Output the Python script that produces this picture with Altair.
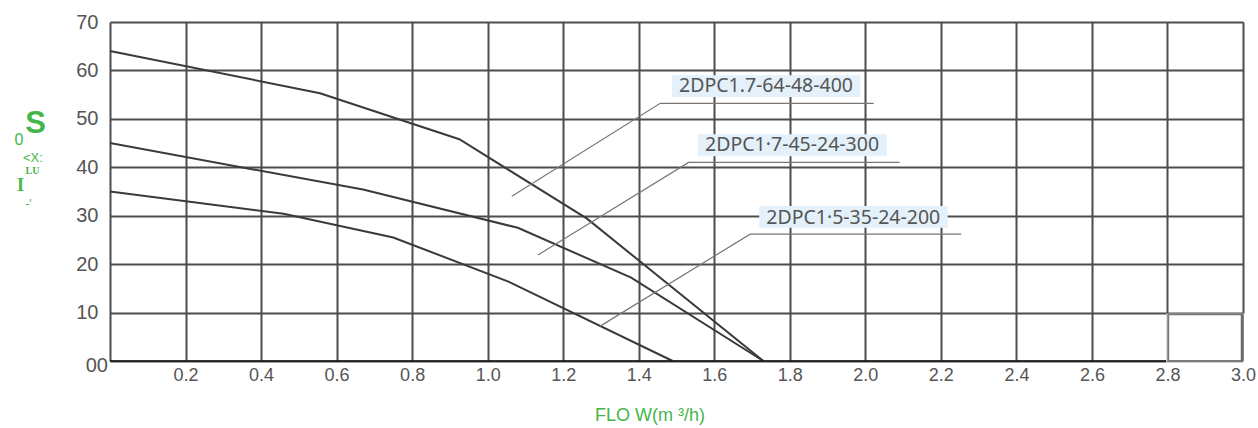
import altair as alt
import pandas as pd

# ---- data ----
flow_400 = [0.0, 0.556, 0.925, 1.263, 1.73]
head_400 = [64.0, 55.3, 45.8, 29.4, 0.0]
flow_300 = [0.0, 0.67, 1.08, 1.38, 1.73]
head_300 = [45.0, 35.4, 27.5, 17.2, 0.0]
flow_200 = [0.0, 0.46, 0.75, 1.055, 1.49]
head_200 = [35.0, 30.4, 25.5, 16.4, 0.0]

series_names = ["2DPC1.7-64-48-400", "2DPC1·7-45-24-300", "2DPC1·5-35-24-200"]

x_ticks = [0.0, 0.2, 0.4, 0.6, 0.8, 1.0, 1.2, 1.4, 1.6, 1.8, 2.0, 2.2, 2.4, 2.6, 2.8, 3.0]
y_ticks = [0, 10, 20, 30, 40, 50, 60, 70]

# label annotation: leader line points (diagonal start, elbow, horizontal end)
lead_x0 = [1.064, 1.133, 1.298]
lead_y0 = [34.0, 21.9, 7.2]
lead_x1 = [1.457, 1.532, 1.695]
lead_y1 = [53.2, 41.0, 26.2]
lead_x2 = [2.022, 2.091, 2.254]
# label boxes and text centres
box_x1 = [1.488, 1.556, 1.719]
box_x2 = [1.987, 2.057, 2.218]
box_y1 = [54.5, 42.3, 27.5]
box_y2 = [59.0, 46.8, 32.0]
text_x = [1.737, 1.806, 1.968]
text_y = [56.7, 44.5, 29.6]

# y-axis title glyphs (as they appear)
ytitle_sans = ["0", "<X:", "-'"]
ytitle_sans_x = [-0.241, -0.204, -0.216]
ytitle_sans_y = [45.6, 42.0, 32.5]
ytitle_sans_size = [16, 13, 12]
ytitle_big = ["S"]
ytitle_big_x = [-0.197]
ytitle_big_y = [49.0]
ytitle_serif = ["LU", "I"]
ytitle_serif_x = [-0.2053, -0.237]
ytitle_serif_y = [39.3, 36.2]
ytitle_serif_size = [10, 18]

x_title = ["FLO W(m ³/h)"]
x_title_x = [1.43]
x_title_y = [-11.45]

# ---- tables ----
rows = []
for name, fx, hy in zip(series_names, [flow_400, flow_300, flow_200], [head_400, head_300, head_200]):
    for i, (a, b) in enumerate(zip(fx, hy)):
        rows.append({"series": name, "flow": a, "head": b, "order": i})
curves = pd.DataFrame(rows)

lead_rows = []
for i, n in enumerate(series_names):
    lead_rows.append({"series": n, "x": lead_x0[i], "y": lead_y0[i], "order": 0})
    lead_rows.append({"series": n, "x": lead_x1[i], "y": lead_y1[i], "order": 1})
    lead_rows.append({"series": n, "x": lead_x2[i], "y": lead_y1[i], "order": 2})
leads = pd.DataFrame(lead_rows)

labels = pd.DataFrame({"series": series_names, "bx1": box_x1, "bx2": box_x2,
                       "by1": box_y1, "by2": box_y2, "tx": text_x, "ty": text_y})

xs = alt.Scale(domain=[0, 3.0], nice=False, zero=False)
ys = alt.Scale(domain=[0, 70], nice=False, zero=False)

base_x_axis = alt.Axis(values=x_ticks, grid=True, domain=False, ticks=False,
                       labelExpr="datum.value == 0 ? '' : format(datum.value, '.1f')",
                       labelFont="Liberation Sans", labelFontSize=18, labelColor="#555555",
                       labelPadding=5, title=None, gridColor="#4d4d4d", gridWidth=2,
                       gridOpacity=1, labelFlush=False)
base_y_axis = alt.Axis(values=y_ticks, grid=True, domain=False, ticks=False,
                       labelExpr="datum.value == 0 ? '' : datum.label",
                       labelFont="Liberation Sans", labelFontSize=20, labelColor="#555555",
                       labelPadding=12, title=None, gridColor="#4d4d4d", gridWidth=2,
                       gridOpacity=1)

lines = alt.Chart(curves).mark_line(color="#3a3a3a", strokeWidth=2).encode(
    x=alt.X("flow:Q", scale=xs, axis=base_x_axis),
    y=alt.Y("head:Q", scale=ys, axis=base_y_axis),
    detail="series:N",
    order="order:Q",
)

leader = alt.Chart(leads).mark_line(color="#777777", strokeWidth=1.2).encode(
    x=alt.X("x:Q", scale=xs), y=alt.Y("y:Q", scale=ys), detail="series:N", order="order:Q"
)

boxes = alt.Chart(labels).mark_rect(color="#e4f1fa").encode(
    x=alt.X("bx1:Q", scale=xs), x2="bx2:Q", y=alt.Y("by1:Q", scale=ys), y2="by2:Q"
)

texts = alt.Chart(labels).mark_text(font="Noto Sans", fontSize=19.5, color="#555555",
                                    align="center", baseline="middle").encode(
    x=alt.X("tx:Q", scale=xs), y=alt.Y("ty:Q", scale=ys), text="series:N"
)

# bottom axis line and corner box
axis_line = alt.Chart(pd.DataFrame({"x": [0.0], "x2": [2.797], "y": [0.0]})).mark_rule(
    color="#111111", strokeWidth=1.6).encode(
    x=alt.X("x:Q", scale=xs), x2="x2:Q", y=alt.Y("y:Q", scale=ys))

cover = alt.Chart(pd.DataFrame({"x": [2.797], "x2": [3.01], "y": [-0.3], "y2": [9.8]})).mark_rect(
    color="white").encode(x=alt.X("x:Q", scale=xs), x2="x2:Q", y=alt.Y("y:Q", scale=ys), y2="y2:Q")

corner = alt.Chart(pd.DataFrame({"x": [2.802], "x2": [2.998], "y": [0.0], "y2": [9.65]})).mark_rect(
    fill="white", stroke="#7a7a7a", strokeWidth=2).encode(
    x=alt.X("x:Q", scale=xs), x2="x2:Q", y=alt.Y("y:Q", scale=ys), y2="y2:Q")

corner_edge = alt.Chart(pd.DataFrame({"x": [2.998], "y": [0.0], "y2": [9.65]})).mark_rule(
    color="#6a6a6a", strokeWidth=3).encode(
    x=alt.X("x:Q", scale=xs), y=alt.Y("y:Q", scale=ys), y2="y2:Q")

zero_lbl = alt.Chart(pd.DataFrame({"t": ["00"], "x": [0.0], "y": [0.0]})).mark_text(
    font="Liberation Sans", fontSize=20, color="#555555", align="right", baseline="middle",
    dx=-2, dy=5).encode(x=alt.X("x:Q", scale=xs), y=alt.Y("y:Q", scale=ys), text="t:N")

green = "#45b649"
ysans = alt.Chart(pd.DataFrame({"t": ytitle_sans, "x": ytitle_sans_x, "y": ytitle_sans_y,
                                "s": ytitle_sans_size})).mark_text(
    font="Liberation Sans", color=green, align="center", baseline="middle").encode(
    x=alt.X("x:Q", scale=xs), y=alt.Y("y:Q", scale=ys), text="t:N",
    size=alt.Size("s:Q", scale=None, legend=None))

ybig = alt.Chart(pd.DataFrame({"t": ytitle_big, "x": ytitle_big_x, "y": ytitle_big_y})).mark_text(
    font="Liberation Sans", fontWeight="bold", fontSize=31, color=green, align="center",
    baseline="middle").encode(x=alt.X("x:Q", scale=xs), y=alt.Y("y:Q", scale=ys), text="t:N")

yserif = alt.Chart(pd.DataFrame({"t": ytitle_serif, "x": ytitle_serif_x, "y": ytitle_serif_y,
                                 "s": ytitle_serif_size})).mark_text(
    font="Liberation Serif", fontWeight="bold", color=green, align="center", baseline="middle").encode(
    x=alt.X("x:Q", scale=xs), y=alt.Y("y:Q", scale=ys), text="t:N",
    size=alt.Size("s:Q", scale=None, legend=None))

xtitle = alt.Chart(pd.DataFrame({"t": x_title, "x": x_title_x, "y": x_title_y})).mark_text(
    font="Liberation Sans", fontSize=18, color=green, align="center", baseline="middle").encode(
    x=alt.X("x:Q", scale=xs), y=alt.Y("y:Q", scale=ys), text="t:N")

chart = alt.layer(
    lines, leader, boxes, texts, axis_line, cover, corner, corner_edge, zero_lbl,
    ysans, ybig, yserif, xtitle
).properties(
    width=1133, height=339,
    autosize=alt.AutoSizeParams(type="none"),
    padding={"left": 110, "top": 22, "right": 15, "bottom": 67},
).configure_view(stroke=None).configure(background="white")

chart.save("out.html", embed_options={"renderer": "svg", "actions": False})
